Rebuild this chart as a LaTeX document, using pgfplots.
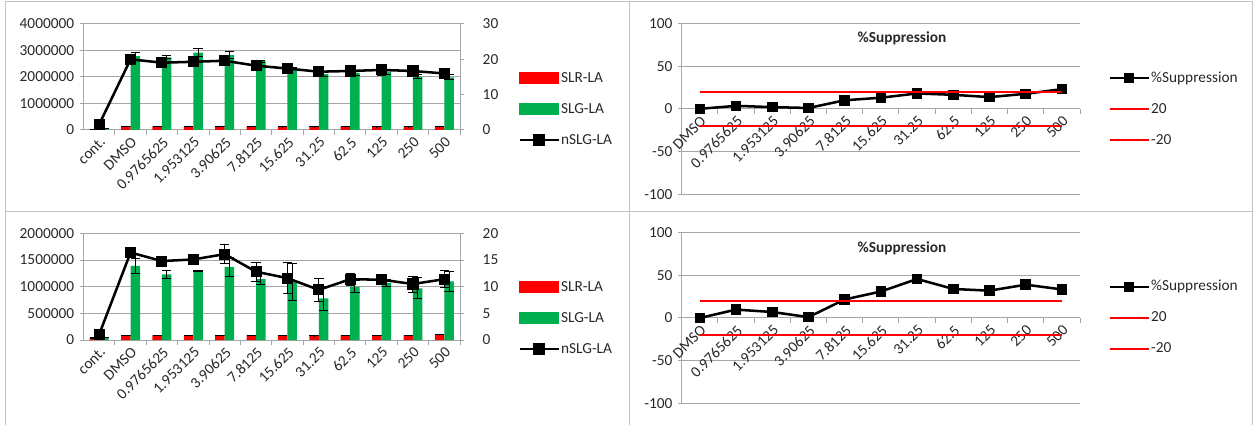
\documentclass[border=0pt]{standalone}
\usepackage{pgfplots}
\pgfplotsset{compat=1.18}
\usepackage{pgfplotstable}
\usepackage{fontspec}
\setmainfont{Carlito}
\definecolor{xgreen}{RGB}{0,176,80}
\definecolor{xred}{RGB}{255,0,0}
\definecolor{gridc}{RGB}{166,166,166}
\definecolor{framec}{RGB}{195,195,195}
\definecolor{txt}{RGB}{40,40,40}

\pgfplotstableread{
x SLR SLRe SLG SLGe n ne
0 30000 4000 50000 10000 1.6 0.3
1 140000 6000 2790000 150000 20.0 0.9
2 140000 6000 2740000 60000 19.05 0.7
3 140000 6000 2920000 160000 19.3 0.9
4 140000 6000 2830000 150000 19.6 0.9
5 140000 6000 2600000 40000 18.2 0.6
6 130000 6000 2330000 40000 17.4 0.6
7 130000 6000 2110000 100000 16.5 1.5
8 130000 6000 2160000 100000 16.7 1.4
9 130000 6000 2200000 100000 17.0 1.5
10 120000 6000 2010000 80000 16.7 1.4
11 130000 6000 1990000 90000 16.0 1.3
}\tlA

\pgfplotstableread{
x SLR SLRe SLG SLGe n ne
0 40000 3000 50000 5000 1.06 0.2
1 85000 4000 1390000 140000 16.4 0.8
2 85000 4000 1230000 80000 14.8 0.5
3 85000 4000 1290000 10000 15.1 0.3
4 85000 4000 1370000 170000 16.1 1.8
5 85000 4000 1140000 100000 12.8 1.75
6 85000 4000 1090000 340000 11.6 2.9
7 80000 4000 780000 220000 9.4 2.2
8 85000 4000 1000000 110000 11.4 1.1
9 85000 4000 1070000 70000 11.3 0.6
10 85000 4000 970000 200000 10.5 1.5
11 100000 4000 1100000 190000 11.4 1.6
}\tlB

\pgfplotstableread{
x top bottom
0 0 0
1 3.5 9.8
2 2 7
3 1 1
4 10 21.7
5 13 31
6 18 45.7
7 16.4 34
8 13.7 32
9 17.6 39
10 23 33.5
}\tsup

\pgfplotstableread{
x lo hi
0 -20 20
10 -20 20
}\tlim

\pgfplotsset{
  excel/.style={
    scale only axis,
    axis line style={gridc, line width=0.75pt},
    tick style={gridc, line width=0.75pt},
    grid style={gridc, line width=0.75pt},
    tick align=outside, major tick length=3pt, minor tick length=4pt,
    tick label style={text=txt},
    every major x tick/.append style={draw=none},
    xticklabel style={rotate=45, anchor=north east, inner sep=1pt},
    legend cell align=left,
    scaled y ticks=false,
  },
  barleft/.style={
    excel, width=282.4pt,
    xmin=-0.5, xmax=11.5,
    axis x line*=bottom, axis y line*=left,
    ymajorgrids,
    xtick={0,...,11},
    xticklabels={cont.,DMSO,0.9765625,1.953125,3.90625,7.8125,15.625,31.25,62.5,125,250,500},
    minor xtick={0.5,1.5,...,11.5},
    ybar=0pt, bar width=7.1pt,
  },
  barright/.style={
    excel, width=282.4pt,
    xmin=-0.5, xmax=11.5,
    axis x line=none, axis y line*=right,
    yticklabel style={xshift=10pt},
    legend style={draw=none, fill=none, inner sep=0pt, row sep=11.25pt,
      nodes={text height=8pt, text depth=2pt, inner sep=1pt, text=txt}},
  },
  suppr/.style={
    excel, width=298.7pt,
    xmin=-0.5, xmax=10.5, ymin=-100, ymax=100,
    axis x line*=middle, axis y line*=left,
    ymajorgrids,
    ytick={-100,-50,0,50,100}, yticklabels={-100,-50,0,50,100},
    xtick={0,...,10},
    xticklabels={DMSO,0.9765625,1.953125,3.90625,7.8125,15.625,31.25,62.5,125,250,500},
    minor xtick={0.5,1.5,...,10.5},
    title={\%Suppression},
    legend style={draw=none, fill=none, inner sep=0pt, row sep=11.25pt,
      nodes={text height=8pt, text depth=2pt, inner sep=1pt, text=txt}},
  },
  overlay axis/.style={
    scale only axis, width=298.7pt,
    xmin=-0.5, xmax=10.5, ymin=-100, ymax=100,
    axis lines=none, ticks=none,
  },
  redbar/.style={fill=xred, draw=none,
    error bars/.cd, y dir=both, y explicit,
    error bar style={black, line width=0.75pt},
    error mark options={rotate=90, black, mark size=3.5pt, line width=0.75pt}},
  greenbar/.style={fill=xgreen, draw=none,
    error bars/.cd, y dir=both, y explicit,
    error bar style={black, line width=0.75pt},
    error mark options={rotate=90, black, mark size=3.5pt, line width=0.75pt}},
  blackline/.style={black, line width=1.9pt, mark=square*, mark size=3.2pt,
    mark options={solid},
    legend image code/.code={\draw[mark repeat=2,mark phase=2,##1] plot coordinates {(0pt,0pt) (14.6pt,0pt) (29.25pt,0pt)};}},
  redlegrect/.style={legend image code/.code={\fill[xred] (0pt,-4.1pt) rectangle (29.25pt,4.1pt);}},
  greenlegrect/.style={legend image code/.code={\fill[xgreen] (0pt,-4.1pt) rectangle (29.25pt,4.1pt);}},
  redline/.style={draw=red, color=red, line width=1.4pt, mark=none,
    legend image code/.code={\draw[##1] (0pt,0pt) -- (29.25pt,0pt);}},
}

\begin{document}
\fontsize{11.5}{13}\selectfont
\begin{tikzpicture}
\path[use as bounding box] (0pt,0pt) rectangle (939.75pt,318.75pt);
\draw[framec, line width=0.75pt] (3.75pt,0pt) -- (3.75pt,317.25pt) -- (939pt,317.25pt) -- (939pt,0pt);
\draw[framec, line width=0.75pt] (3.75pt,159.75pt) -- (939pt,159.75pt);
\draw[framec, line width=0.75pt] (471.75pt,0pt) -- (471.75pt,317.25pt);

% ---------- top left ----------
\begin{axis}[barleft, at={(62.625pt,221.25pt)}, anchor=south west, height=79.5pt,
  ymin=0, ymax=4000000,
  ytick={0,1000000,2000000,3000000,4000000},
  yticklabels={0,1000000,2000000,3000000,4000000}]
\addplot[redbar] table[x=x, y=SLR, y error=SLRe]{\tlA};
\addplot[greenbar] table[x=x, y=SLG, y error=SLGe]{\tlA};
\end{axis}
\begin{axis}[barright, at={(62.625pt,221.25pt)}, anchor=south west, height=79.5pt,
  ymin=0, ymax=30, ytick={0,10,20,30}, yticklabels={0,10,20,30},
  legend style={at={(axis description cs:1.154,0.198)}, anchor=west}]
\addlegendimage{redlegrect}
\addlegendentry{SLR-LA}
\addlegendimage{greenlegrect}
\addlegendentry{SLG-LA}
\addplot[blackline, error bars/.cd, y dir=both, y explicit,
  error bar style={black, line width=0.75pt},
  error mark options={rotate=90, black, mark size=3.5pt, line width=0.75pt}]
  table[x=x, y=n, y error=ne]{\tlA};
\addlegendentry{nSLG-LA}
\end{axis}

% ---------- bottom left ----------
\begin{axis}[barleft, at={(62.625pt,63.75pt)}, anchor=south west, height=80pt,
  ymin=0, ymax=2000000,
  ytick={0,500000,1000000,1500000,2000000},
  yticklabels={0,500000,1000000,1500000,2000000}]
\addplot[redbar] table[x=x, y=SLR, y error=SLRe]{\tlB};
\addplot[greenbar] table[x=x, y=SLG, y error=SLGe]{\tlB};
\end{axis}
\begin{axis}[barright, at={(62.625pt,63.75pt)}, anchor=south west, height=80pt,
  ymin=0, ymax=20, ytick={0,5,10,15,20}, yticklabels={0,5,10,15,20},
  legend style={at={(axis description cs:1.154,0.206)}, anchor=west}]
\addlegendimage{redlegrect}
\addlegendentry{SLR-LA}
\addlegendimage{greenlegrect}
\addlegendentry{SLG-LA}
\addplot[blackline, error bars/.cd, y dir=both, y explicit,
  error bar style={black, line width=0.75pt},
  error mark options={rotate=90, black, mark size=3.5pt, line width=0.75pt}]
  table[x=x, y=n, y error=ne]{\tlB};
\addlegendentry{nSLG-LA}
\end{axis}

% ---------- top right ----------
\begin{axis}[suppr, at={(511.3pt,173pt)}, anchor=south west, height=128.25pt,
  title style={at={(axis description cs:0.553,0.92)}, anchor=center, yshift=-6.75pt, font=\bfseries, text=txt},
  legend style={at={(axis description cs:1.0703,0.4988)}, anchor=west}]
\addplot[blackline, mark size=3pt] table[x=x, y=top]{\tsup};
\addlegendentry{\%Suppression}
\addlegendimage{redline}
\addlegendentry{20}
\addlegendimage{redline}
\addlegendentry{-20}
\end{axis}
\begin{axis}[overlay axis, at={(511.3pt,173pt)}, anchor=south west, height=128.25pt]
\addplot[redline] table[x=x, y=hi]{\tlim};
\addplot[redline] table[x=x, y=lo]{\tlim};
\end{axis}

% ---------- bottom right ----------
\begin{axis}[suppr, at={(511.3pt,16.3pt)}, anchor=south west, height=127.95pt,
  title style={at={(axis description cs:0.553,0.916)}, anchor=center, yshift=-6.75pt, font=\bfseries, text=txt},
  legend style={at={(axis description cs:1.0703,0.5)}, anchor=west}]
\addplot[blackline, mark size=3pt] table[x=x, y=bottom]{\tsup};
\addlegendentry{\%Suppression}
\addlegendimage{redline}
\addlegendentry{20}
\addlegendimage{redline}
\addlegendentry{-20}
\end{axis}
\begin{axis}[overlay axis, at={(511.3pt,16.3pt)}, anchor=south west, height=127.95pt]
\addplot[redline] table[x=x, y=hi]{\tlim};
\addplot[redline] table[x=x, y=lo]{\tlim};
\end{axis}
\end{tikzpicture}
\end{document}
